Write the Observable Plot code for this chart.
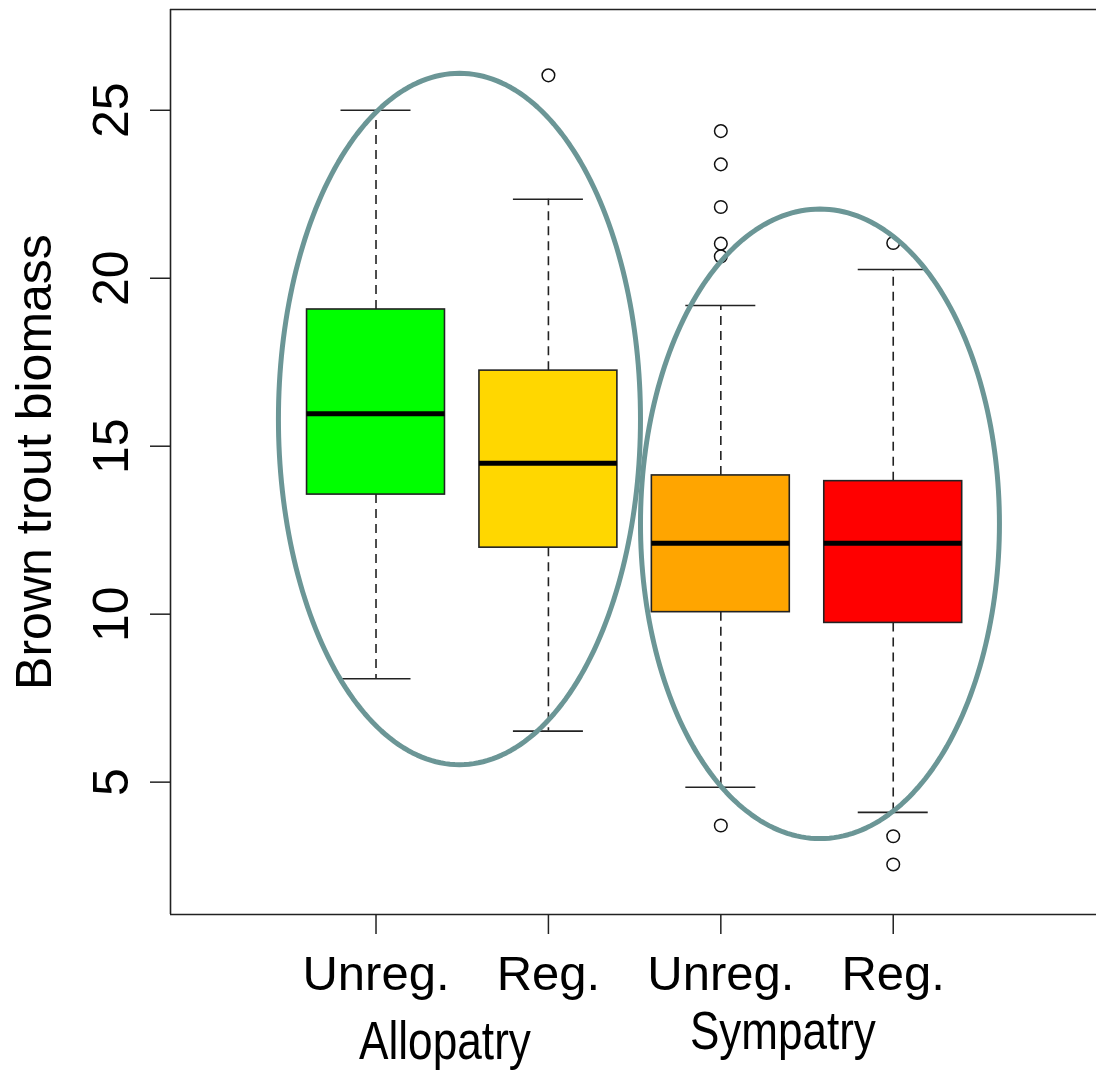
<!DOCTYPE html>
<html><head><meta charset="utf-8">
<script src="https://cdn.jsdelivr.net/npm/d3@7"></script>
<script src="https://cdn.jsdelivr.net/npm/@observablehq/plot@0.6"></script>
<style>
html,body{margin:0;padding:0;background:#fff;}
#chart svg{display:block;}
</style>
</head><body><div id="chart"></div>
<script>
// ---- data ----
const categories = ["Unreg.", "Reg.", "Unreg.", "Reg."];
const positions = [1, 2, 3, 4];
const boxColors = ["#00FF00", "#FFD700", "#FFA500", "#FF0000"];
const q1 = [13.56, 11.98, 10.06, 9.74];
const medians = [15.97, 14.49, 12.11, 12.11];
const q3 = [19.07, 17.25, 14.13, 13.96];
const whiskerLow = [8.08, 6.52, 4.85, 4.10];
const whiskerHigh = [25.0, 22.35, 19.19, 20.26];
const outlierGroup = [2, 3, 3, 3, 3, 3, 3, 4, 4, 4];
const outlierValue = [26.04, 24.38, 23.39, 22.12, 21.03, 20.65, 3.71, 21.05, 3.39, 2.55];
const groupLabels = ["Allopatry", "Sympatry"];
const groupCenters = [1.40, 3.36];
const yTicks = [5, 10, 15, 20, 25];
const yLabel = "Brown trout biomass";
const ellipseCx = [1.484, 3.575];
const ellipseCy = [15.81, 12.69];
const ellipseRx = [1.050, 1.041];
const ellipseRy = [10.29, 9.37];

// ---- derived tables ----
const boxes = positions.map((p, i) => ({pos: p, q1: q1[i], med: medians[i], q3: q3[i], lo: whiskerLow[i], hi: whiskerHigh[i], color: boxColors[i]}));
const outliers = outlierGroup.map((g, i) => ({pos: g, v: outlierValue[i]}));
const ellipsePts = [];
ellipseCx.forEach((cx, k) => {
  const N = 240;
  for (let j = 0; j < N; j++) {
    const t = 2 * Math.PI * j / N;
    ellipsePts.push({id: k, x: cx + ellipseRx[k] * Math.cos(t), y: ellipseCy[k] + ellipseRy[k] * Math.sin(t)});
  }
});

const xDomain = [-0.192, 5.179];
const yDomain = [1.06, 28.0];
const FONT = "'Liberation Sans', Arial, Helvetica, sans-serif";
const NARROW = "'Liberation Sans Narrow', 'Arial Narrow', 'Liberation Sans', sans-serif";
const BW = 0.4, CAP = 0.203;

const chart = Plot.plot({
  width: 1096,
  height: 1074,
  marginLeft: 170,
  marginRight: 0,
  marginTop: 9,
  marginBottom: 160,
  style: {fontFamily: FONT, background: "#fff", color: "#000"},
  x: {type: "linear", domain: xDomain, axis: null},
  y: {type: "linear", domain: yDomain, axis: null},
  color: {type: "identity"},
  marks: [
    // whiskers (dashed)
    Plot.ruleX(boxes, {x: "pos", y1: "q3", y2: "hi", stroke: "#222", strokeWidth: 1.6, strokeDasharray: "9,6"}),
    Plot.ruleX(boxes, {x: "pos", y1: "q1", y2: "lo", stroke: "#222", strokeWidth: 1.6, strokeDasharray: "9,6"}),
    // whisker caps
    Plot.ruleY(boxes, {y: "hi", x1: d => d.pos - CAP, x2: d => d.pos + CAP, stroke: "#222", strokeWidth: 1.6}),
    Plot.ruleY(boxes, {y: "lo", x1: d => d.pos - CAP, x2: d => d.pos + CAP, stroke: "#222", strokeWidth: 1.6}),
    // boxes
    Plot.rect(boxes, {x1: d => d.pos - BW, x2: d => d.pos + BW, y1: "q1", y2: "q3", fill: "color", stroke: "#222", strokeWidth: 1.6}),
    // medians
    Plot.ruleY(boxes, {y: "med", x1: d => d.pos - BW, x2: d => d.pos + BW, stroke: "#000", strokeWidth: 5}),
    // outliers
    Plot.dot(outliers, {x: "pos", y: "v", r: 6.3, stroke: "#111", strokeWidth: 1.5, fill: "none"}),
    // ellipses
    Plot.line(ellipsePts, {x: "x", y: "y", z: "id", curve: "linear-closed", stroke: "#6B9696", strokeWidth: 5}),
    // frame (left, top, bottom)
    Plot.ruleX([xDomain[0]], {stroke: "#222", strokeWidth: 1.6}),
    Plot.ruleY([yDomain[0], yDomain[1]], {stroke: "#222", strokeWidth: 1.6}),
    // axes
    Plot.axisX(positions, {tickSize: 20, tickPadding: 21, tickFormat: d => categories[d - 1], fontSize: 49, fontFamily: FONT, stroke: "#222", strokeWidth: 1.5, label: null, fill: "#000"}),
    Plot.axisY(yTicks, {tickSize: 20, tickFormat: () => "", stroke: "#222", strokeWidth: 1.5, label: null}),
    Plot.text(yTicks, {y: d => d, text: d => String(d), frameAnchor: "left", dx: -59, rotate: -90, textAnchor: "middle", lineAnchor: "middle", fontSize: 50, fontFamily: FONT, fill: "#000"}),
    // y label
    Plot.text([yLabel], {frameAnchor: "left", dx: -136, rotate: -90, textAnchor: "middle", lineAnchor: "middle", fontSize: 50, fontFamily: FONT, fill: "#000"}),
    // group labels
    Plot.text([groupLabels[0]], {x: () => groupCenters[0], text: d => d, frameAnchor: "bottom", dy: 128, lineAnchor: "middle", fontSize: 53, fontFamily: NARROW, fill: "#000"}),
    Plot.text([groupLabels[1]], {x: () => groupCenters[1], text: d => d, frameAnchor: "bottom", dy: 118, lineAnchor: "middle", fontSize: 53, fontFamily: NARROW, fill: "#000"})
  ]
});
document.getElementById("chart").appendChild(chart);

// condensed look for the group labels (Arial Narrow style)
const narrowWidths = {"Allopatry": 172, "Sympatry": 186};
chart.querySelectorAll("text").forEach(t => {
  const w = narrowWidths[t.textContent];
  if (w) {
    t.setAttribute("textLength", w);
    t.setAttribute("lengthAdjust", "spacingAndGlyphs");
  }
});
</script>
</body></html>
